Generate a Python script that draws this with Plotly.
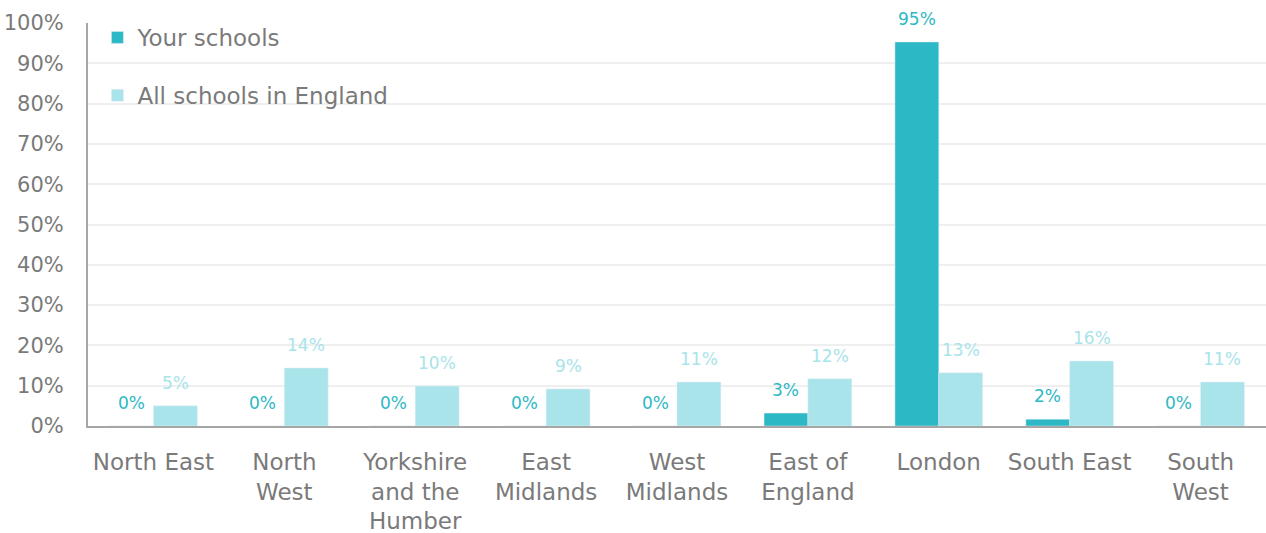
import plotly.graph_objects as go

regions = ["North East", "North<br>West", "Yorkshire<br>and the<br>Humber", "East<br>Midlands",
           "West<br>Midlands", "East of<br>England", "London", "South East", "South<br>West"]
your_schools = [0.0, 0.0, 0.0, 0.0, 0.0, 3.2, 95.3, 1.7, 0.0]
all_schools = [5.0, 14.4, 9.9, 9.2, 10.9, 11.7, 13.2, 16.1, 10.9]
y_ticks = list(range(0, 101, 10))

DARK = "#2DB8C5"
LIGHT = "#A8E4EA"
GREY = "#7A7A7A"
FONT = "DejaVu Sans"

idx = list(range(len(regions)))

fig = go.Figure()
fig.add_trace(go.Bar(x=idx, y=your_schools, name="Your schools", marker_color=DARK,
                     legendgroup="a", hoverinfo="skip"))
fig.add_trace(go.Bar(x=idx, y=all_schools, name="All schools in England", marker_color=LIGHT,
                     legendgroup="b", hoverinfo="skip"))

bargap = 0.33
half = (1 - bargap) / 4
for i in idx:
    fig.add_annotation(x=i - half, y=your_schools[i], text=f"{round(your_schools[i])}%",
                       showarrow=False, yshift=23, font=dict(color=DARK, size=17, family=FONT))
    fig.add_annotation(x=i + half, y=all_schools[i], text=f"{round(all_schools[i])}%",
                       showarrow=False, yshift=23, font=dict(color=LIGHT, size=17, family=FONT))

fig.update_layout(
    width=1266, height=533,
    margin=dict(l=88, r=0, t=23, b=107),
    paper_bgcolor="white", plot_bgcolor="white",
    barmode="group", bargap=bargap, bargroupgap=0,
    font=dict(family=FONT, color=GREY, size=22),
    legend=dict(x=0.008, y=1.0175, xanchor="left", yanchor="top", bgcolor="rgba(0,0,0,0)",
                font=dict(size=23, color=GREY), tracegroupgap=25, itemwidth=30),
    showlegend=True,
)
fig.update_xaxes(tickmode="array", tickvals=idx, ticktext=regions, range=[-0.5, len(regions) - 0.5],
                 showline=True, linecolor="#A6A6A6", linewidth=2, showgrid=False, ticks="",
                 tickfont=dict(size=23, color=GREY), ticklabelstandoff=14)
fig.update_yaxes(range=[0, 100], tickmode="array", tickvals=y_ticks,
                 ticktext=[f"{v}%" for v in y_ticks], showline=True, linecolor="#A6A6A6",
                 linewidth=2, gridcolor="#EFEFEF", gridwidth=2, zeroline=False, ticks="",
                 tickfont=dict(size=21, color=GREY), ticklabelstandoff=18)

fig.write_html("out.html")
